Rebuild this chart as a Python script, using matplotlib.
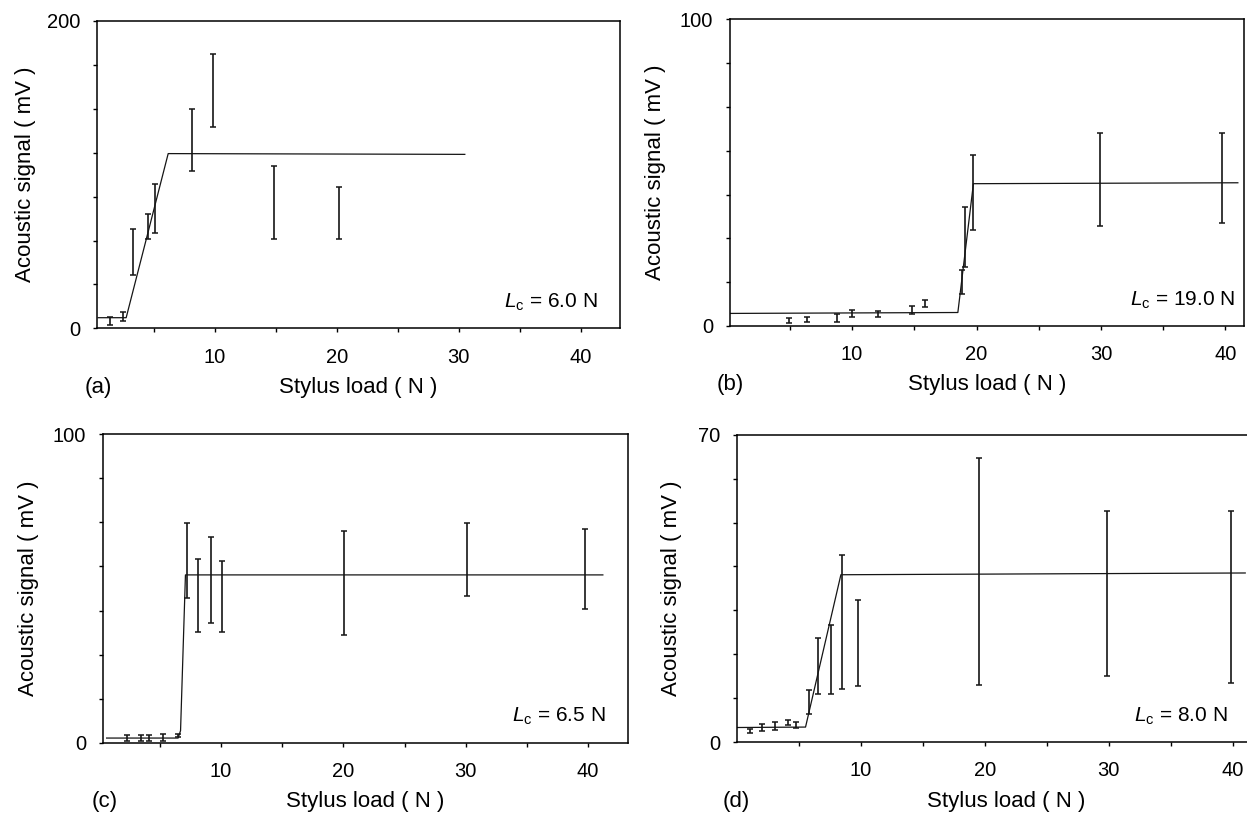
import numpy as np
import matplotlib
matplotlib.use('Agg')
import matplotlib.pyplot as plt

plt.rcParams['font.family'] = ['Liberation Sans', 'DejaVu Sans']
plt.rcParams['mathtext.fontset'] = 'custom'
plt.rcParams['mathtext.rm'] = 'Liberation Sans'
plt.rcParams['mathtext.it'] = 'Liberation Sans:italic'

# (a) error bars: load (N), lower / upper ends (mV)
a_load = [1.4, 2.4, 3.3, 4.5, 5.1, 8.1, 9.85, 14.8, 20.2]
a_low = [2.2, 5.0, 34.7, 57.9, 62.3, 102.4, 131.2, 58.1, 58.1]
a_high = [7.6, 10.8, 64.6, 74.4, 93.7, 142.5, 178.5, 105.6, 91.8]
a_fit_load = [0.4, 2.7, 6.15, 30.5]
a_fit_sig = [6.9, 6.9, 113.7, 113.2]

# (b)
b_load = [4.9, 6.35, 8.8, 10.0, 12.1, 14.85, 15.9, 18.85, 19.05, 19.75, 29.9, 39.7]
b_low = [1.1, 1.4, 1.4, 2.8, 3.0, 3.9, 6.1, 10.3, 19.3, 31.2, 32.5, 33.6]
b_high = [2.5, 3.0, 3.9, 5.2, 5.0, 6.5, 8.5, 18.2, 38.8, 55.6, 62.8, 62.9]
b_fit_load = [0.2, 18.5, 19.75, 41.0]
b_fit_sig = [4.1, 4.4, 46.4, 46.7]

# (c)
c_load = [2.3, 3.45, 4.15, 5.25, 6.5, 7.2, 8.15, 9.18, 10.05, 20.08, 30.07, 39.74]
c_low = [0.5, 0.8, 0.8, 0.5, 1.8, 46.8, 35.8, 38.8, 36.0, 35.1, 47.7, 43.4]
c_high = [2.6, 2.6, 2.6, 2.8, 3.0, 71.1, 59.5, 66.8, 59.0, 68.7, 71.3, 69.3]
c_fit_load = [0.66, 6.5, 6.7, 7.1, 41.2]
c_fit_sig = [1.6, 1.6, 4.0, 54.4, 54.4]

# (d)
d_load = [1.1, 2.05, 3.1, 4.1, 4.8, 5.85, 6.55, 7.6, 8.5, 9.8, 19.5, 29.85, 39.85]
d_low = [2.05, 2.5, 2.7, 3.8, 3.3, 6.45, 11.0, 11.0, 12.0, 12.8, 13.0, 15.1, 13.4]
d_high = [3.0, 4.2, 4.6, 5.1, 4.6, 11.9, 23.8, 26.7, 42.7, 32.4, 64.8, 52.7, 52.7]
d_fit_load = [0.0, 5.55, 8.4, 41.0]
d_fit_sig = [3.3, 3.4, 38.1, 38.5]

W, H = 1247, 814
fig = plt.figure(figsize=(W / 100, H / 100), dpi=100)


def add_ax(left, right, top, bottom):
    return fig.add_axes([left / W, 1 - bottom / H, (right - left) / W, (bottom - top) / H])


def panel(ax, load, low, high, fit_load, fit_sig, ymax, xlim, lc, letter,
          ylab_off, letter_x):
    low = np.array(low)
    high = np.array(high)
    mid = (low + high) / 2
    err = (high - low) / 2
    ax.plot(fit_load, fit_sig, color='#151515', lw=0.9)
    ax.errorbar(load, mid, yerr=err, fmt='none', ecolor='#151515',
                elinewidth=1.2, capsize=2.2, capthick=1.1)
    ax.set_xlim(*xlim)
    ax.set_ylim(0, ymax)
    ax.set_xticks([10, 20, 30, 40])
    ax.set_xticks([5, 15, 25, 35], minor=True)
    yt = np.linspace(0, ymax, 8)
    ax.set_yticks(yt)
    ax.set_yticklabels(['0'] + [''] * 6 + [f'{ymax:g}'])
    ax.tick_params(which='both', direction='out', length=3, width=1, labelsize=14.5)
    ax.tick_params(axis='x', pad=11)
    ax.tick_params(axis='y', pad=9)
    for s in ax.spines.values():
        s.set_linewidth(1.1)
    bb = ax.get_position()
    wpx = bb.width * W
    hpx = bb.height * H
    ax.set_ylabel('Acoustic signal ( mV )', fontsize=16, va='center')
    ax.yaxis.set_label_coords(-ylab_off / wpx, 0.5)
    ax.set_xlabel('Stylus load ( N )', fontsize=16, va='center')
    ax.xaxis.set_label_coords(0.5, -59 / hpx)
    ax.text(0.958, 0.085, lc, transform=ax.transAxes, ha='right', va='center',
            fontsize=15)
    ax.text((letter_x - bb.x0 * W) / wpx, -59 / hpx, letter, transform=ax.transAxes,
            ha='left', va='center', fontsize=16)


ax_a = add_ax(97.3, 620, 21, 328.3)
panel(ax_a, a_load, a_low, a_high, a_fit_load, a_fit_sig, 200, (0.33, 43.24),
      r'$L_{\mathrm{c}}$ = 6.0 N', '(a)', 72, 85)

ax_b = add_ax(730, 1243.7, 19.3, 326)
panel(ax_b, b_load, b_low, b_high, b_fit_load, b_fit_sig, 100, (0.19, 41.47),
      r'$L_{\mathrm{c}}$ = 19.0 N', '(b)', 74, 717)
ax_b.texts[0].set_x(0.984)

ax_c = add_ax(102.7, 627.7, 434, 743)
panel(ax_c, c_load, c_low, c_high, c_fit_load, c_fit_sig, 100, (0.34, 43.23),
      r'$L_{\mathrm{c}}$ = 6.5 N', '(c)', 74, 92)

ax_d = add_ax(736.7, 1275, 434.7, 742)
panel(ax_d, d_load, d_low, d_high, d_fit_load, d_fit_sig, 70, (0.0, 43.4),
      r'$L_{\mathrm{c}}$ = 8.0 N', '(d)', 65, 723)
ax_d.texts[0].set_x((1227.7 - 736.7) / (1275 - 736.7))

fig.savefig('out.png', dpi=100)
